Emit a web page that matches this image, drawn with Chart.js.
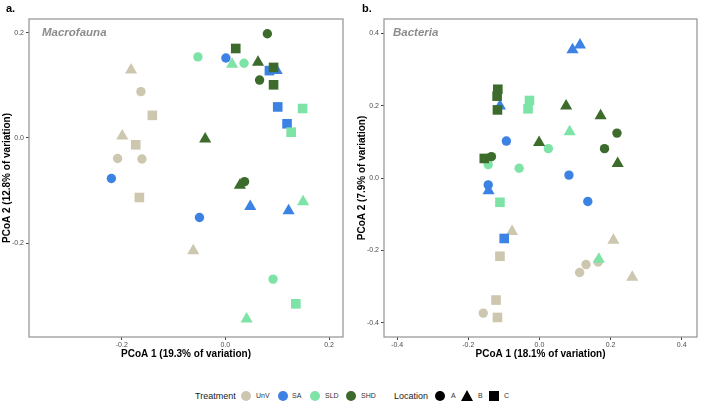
<!DOCTYPE html>
<html lang="en">
<head>
  <meta charset="UTF-8">
  <title>PCoA - Macrofauna and Bacteria</title>
  <style>
    body {
      margin: 0;
      background-color: #ffffff;
      font-family: "Liberation Sans", Arial, sans-serif;
    }
    #wrap {
      position: relative;
      width: 704px;
      height: 403px;
      overflow: hidden;
    }
    canvas {
      position: absolute;
      top: 0;
    }
    .panel {
      position: absolute;
      font-weight: bold;
      font-size: 11px;
      color: #000;
      line-height: 12px;
    }
    .inset {
      position: absolute;
      font-weight: bold;
      font-style: italic;
      font-size: 11.5px;
      color: #8c8c8c;
      line-height: 12px;
    }
    .leg {
      position: absolute;
      font-size: 7px;
      color: #333;
      line-height: 10px;
      top: 391px;
    }
    .legtitle {
      font-size: 9px;
      color: #222;
      top: 390px;
      line-height: 12px;
    }
    .dot, .sq, .tri {
      position: absolute;
    }
    .dot { width: 10px; height: 10px; border-radius: 50%; top: 391px; }
    .sq { width: 10px; height: 10px; top: 391px; background: #000; }
    .tri {
      width: 0; height: 0; top: 390px;
      border-left: 6px solid transparent;
      border-right: 6px solid transparent;
      border-bottom: 11px solid #000;
    }
  </style>
  <script src="https://cdn.jsdelivr.net/npm/chart.js"></script>
</head>
<body>
  <div id="wrap">
    <canvas id="macroChart" width="350" height="360" style="left:0px"></canvas>
    <canvas id="bactChart" width="352" height="360" style="left:352px"></canvas>

    <div class="panel" style="left:6px; top:2px;">a.</div>
    <div class="panel" style="left:362px; top:2px;">b.</div>
    <div class="inset" style="left:42px; top:26px;">Macrofauna</div>
    <div class="inset" style="left:393px; top:26px;">Bacteria</div>

    <!-- legend -->
    <div class="leg legtitle" style="left:195px;">Treatment</div>
    <div class="dot" style="left:241px; background:#cdc7af;"></div>
    <div class="leg" style="left:256px;">UnV</div>
    <div class="dot" style="left:278px; background:#3b82e4;"></div>
    <div class="leg" style="left:292px;">SA</div>
    <div class="dot" style="left:310px; background:#7ee3a7;"></div>
    <div class="leg" style="left:325px;">SLD</div>
    <div class="dot" style="left:346px; background:#3c6b2c;"></div>
    <div class="leg" style="left:361px;">SHD</div>

    <div class="leg legtitle" style="left:394px;">Location</div>
    <div class="dot" style="left:435px; background:#000;"></div>
    <div class="leg" style="left:451px;">A</div>
    <div class="tri" style="left:461px;"></div>
    <div class="leg" style="left:478px;">B</div>
    <div class="sq" style="left:489px;"></div>
    <div class="leg" style="left:504px;">C</div>
  </div>

  <script>
    // ---- data ----
    const macroX = [
      -0.182, -0.163, -0.141, -0.199, -0.173, -0.208, -0.161, -0.166, -0.062,
      0.001, 0.085, 0.099, 0.101, 0.119, -0.220, 0.048, 0.122, -0.050,
      -0.053, 0.013, 0.036, 0.149, 0.127, 0.150, 0.092, 0.136, 0.041,
      0.081, 0.020, 0.063, 0.093, 0.066, 0.093, -0.039, 0.037, 0.028
    ];
    const macroY = [
      0.129, 0.088, 0.043, 0.004, -0.013, -0.039, -0.040, -0.113, -0.214,
      0.152, 0.128, 0.128, 0.059, 0.027, -0.077, -0.130, -0.138, -0.151,
      0.154, 0.140, 0.142, 0.056, 0.011, -0.121, -0.268, -0.315, -0.344,
      0.198, 0.170, 0.144, 0.134, 0.110, 0.101, -0.002, -0.083, -0.090
    ];
    const macroTreat = [
      'UnV', 'UnV', 'UnV', 'UnV', 'UnV', 'UnV', 'UnV', 'UnV', 'UnV',
      'SA', 'SA', 'SA', 'SA', 'SA', 'SA', 'SA', 'SA', 'SA',
      'SLD', 'SLD', 'SLD', 'SLD', 'SLD', 'SLD', 'SLD', 'SLD', 'SLD',
      'SHD', 'SHD', 'SHD', 'SHD', 'SHD', 'SHD', 'SHD', 'SHD', 'SHD'
    ];
    const macroLoc = [
      'B', 'A', 'C', 'B', 'C', 'A', 'A', 'C', 'B',
      'A', 'C', 'B', 'C', 'C', 'A', 'B', 'B', 'A',
      'A', 'B', 'A', 'C', 'C', 'B', 'A', 'C', 'B',
      'A', 'C', 'B', 'C', 'A', 'C', 'B', 'A', 'B'
    ];

    const bactX = [
      -0.077, 0.208, -0.111, 0.165, 0.131, 0.113, 0.261, -0.122, -0.158, -0.118,
      0.093, 0.114, -0.111, -0.093, 0.083, -0.144, -0.143, 0.136, -0.099,
      -0.028, -0.032, 0.085, 0.025, -0.144, -0.057, -0.111, 0.167,
      -0.117, -0.119, -0.118, 0.075, 0.172, 0.218, -0.001, 0.183, -0.155, -0.135, 0.220
    ];
    const bactY = [
      -0.148, -0.172, -0.216, -0.232, -0.239, -0.261, -0.274, -0.337, -0.373, -0.385,
      0.354, 0.367, 0.199, 0.102, 0.008, -0.019, -0.035, -0.065, -0.167,
      0.214, 0.191, 0.128, 0.081, 0.037, 0.027, -0.067, -0.224,
      0.245, 0.226, 0.188, 0.199, 0.172, 0.124, 0.098, 0.081, 0.054, 0.059, 0.040
    ];
    const bactTreat = [
      'UnV', 'UnV', 'UnV', 'UnV', 'UnV', 'UnV', 'UnV', 'UnV', 'UnV', 'UnV',
      'SA', 'SA', 'SA', 'SA', 'SA', 'SA', 'SA', 'SA', 'SA',
      'SLD', 'SLD', 'SLD', 'SLD', 'SLD', 'SLD', 'SLD', 'SLD',
      'SHD', 'SHD', 'SHD', 'SHD', 'SHD', 'SHD', 'SHD', 'SHD', 'SHD', 'SHD', 'SHD'
    ];
    const bactLoc = [
      'B', 'B', 'C', 'A', 'A', 'A', 'B', 'C', 'A', 'C',
      'B', 'B', 'B', 'A', 'A', 'A', 'B', 'A', 'C',
      'C', 'C', 'B', 'A', 'A', 'A', 'C', 'B',
      'C', 'C', 'C', 'B', 'B', 'A', 'B', 'A', 'C', 'A', 'B'
    ];

    const macroRangeX = [-0.379, 0.227];
    const macroRangeY = [-0.378, 0.226];
    const macroTicks = [-0.2, 0.0, 0.2];
    const bactRangeX = [-0.437, 0.443];
    const bactRangeY = [-0.439, 0.439];
    const bactTicks = [-0.4, -0.2, 0.0, 0.2, 0.4];

    // ---- styles ----
    const treatColors = { UnV: '#cdc7af', SA: '#3b82e4', SLD: '#7ee3a7', SHD: '#3c6b2c' };
    const locShape = { A: 'circle', B: 'triangle', C: 'rect' };
    const locRadius = { A: 4.7, B: 7, C: 6.8 };
    const FONT = '"Liberation Sans", Arial, sans-serif';

    const framePlugin = {
      id: 'frame',
      afterDraw(chart) {
        const a = chart.chartArea;
        const ctx = chart.ctx;
        ctx.save();
        ctx.strokeStyle = '#9a9a9a';
        ctx.lineWidth = 1.3;
        ctx.strokeRect(a.left, a.top, a.right - a.left, a.bottom - a.top);
        ctx.restore();
      }
    };

    function fmt(v) {
      return (Math.abs(v) < 1e-9 ? 0 : v).toFixed(1);
    }

    function axis(range, ticks, title, isY, size, titlePad) {
      return {
        type: 'linear',
        min: range[0],
        max: range[1],
        afterBuildTicks: s => { s.ticks = ticks.map(v => ({ value: v })); },
        afterFit: s => { if (isY) s.width = size; else s.height = size; },
        grid: { display: true, drawOnChartArea: false, drawTicks: true, tickLength: 3, color: '#444', tickWidth: 1 },
        border: { display: false },
        ticks: {
          autoSkip: false, maxRotation: 0,
          font: { size: 7, family: FONT }, color: '#4d4d4d',
          padding: isY ? 2 : 1,
          callback: v => fmt(v)
        },
        title: {
          display: true, text: title, color: '#000',
          font: { size: 10, weight: 'bold', family: FONT },
          padding: isY ? { top: titlePad, bottom: 0 } : { top: 0, bottom: titlePad }
        }
      };
    }

    function makeChart(id, xs, ys, treat, loc, rx, ry, tx, ty, xTitle, yTitle, yWidth, yTitlePad, padRight) {
      const points = xs.map((x, i) => ({ x: x, y: ys[i] }));
      return new Chart(document.getElementById(id), {
        type: 'scatter',
        data: {
          datasets: [{
            data: points,
            pointStyle: c => locShape[loc[c.dataIndex]],
            pointRadius: c => locRadius[loc[c.dataIndex]],
            backgroundColor: c => treatColors[treat[c.dataIndex]],
            borderWidth: 0
          }]
        },
        options: {
          responsive: false,
          animation: false,
          events: [],
          layout: { padding: { top: 19, right: padRight, left: 0, bottom: 0 } },
          plugins: { legend: { display: false }, tooltip: { enabled: false } },
          scales: {
            x: axis(rx, tx, xTitle, false, 23, 0),
            y: axis(ry, ty, yTitle, true, yWidth, yTitlePad)
          }
        },
        plugins: [framePlugin]
      });
    }

    makeChart('macroChart', macroX, macroY, macroTreat, macroLoc,
      macroRangeX, macroRangeY, macroTicks, macroTicks,
      'PCoA 1 (19.3% of variation)', 'PCoA 2 (12.8% of variation)', 29, 1, 3);

    makeChart('bactChart', bactX, bactY, bactTreat, bactLoc,
      bactRangeX, bactRangeY, bactTicks, bactTicks,
      'PCoA 1 (18.1% of variation)', 'PCoA 2 (7.9% of variation)', 32, 4, 2);
  </script>
</body>
</html>
